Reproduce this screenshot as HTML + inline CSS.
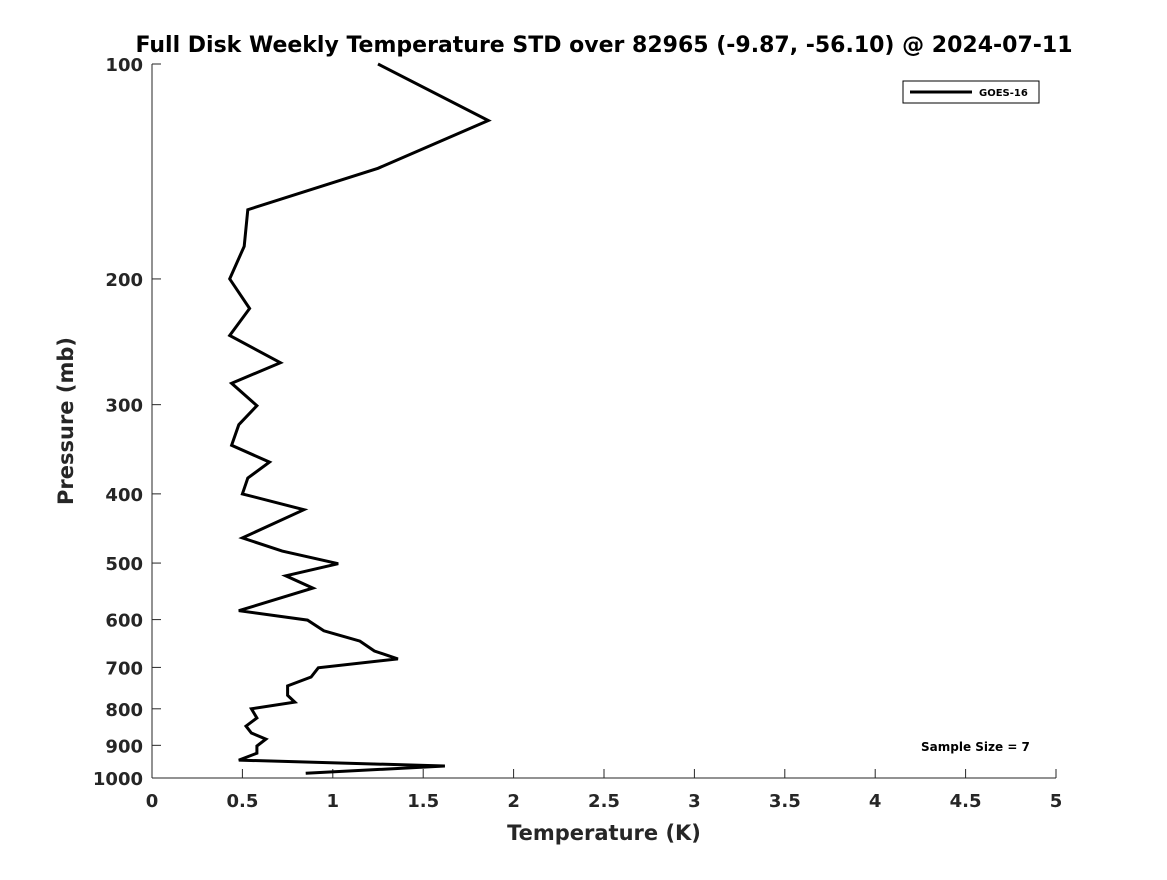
<!DOCTYPE html>
<html><head><meta charset="utf-8"><style>
body{margin:0;background:#fff;}
svg text{font-family:"DejaVu Sans","Liberation Sans",sans-serif;font-weight:bold;fill:#262626;}
</style></head><body>
<svg id="chart" width="1167" height="875" xmlns="http://www.w3.org/2000/svg">
<rect width="1167" height="875" fill="#fff"/>
<text x="604" y="52" text-anchor="middle" font-size="22" style="fill:#000">Full Disk Weekly Temperature STD over 82965 (-9.87, -56.10) @ 2024-07-11</text>
<g id="axes"></g>
<g id="series"></g>
<text x="604" y="840" text-anchor="middle" font-size="21">Temperature (K)</text>
<text transform="translate(73,421) rotate(-90)" text-anchor="middle" font-size="21">Pressure (mb)</text>
<g>
<rect x="903" y="81" width="136" height="22" fill="#fff" stroke="#000" stroke-width="1"/>
<line x1="910" y1="92" x2="972" y2="92" stroke="#000" stroke-width="3"/>
<text x="979" y="96" font-size="10" style="fill:#000">GOES-16</text>
</g>
<text x="921" y="751" font-size="12" style="fill:#000">Sample Size = 7</text>
</svg>
<script>
const xTicks=[0,0.5,1,1.5,2,2.5,3,3.5,4,4.5,5];
const xTickLabels=["0","0.5","1","1.5","2","2.5","3","3.5","4","4.5","5"];
const yTicks=[100,200,300,400,500,600,700,800,900,1000];
const yTickLabels=["100","200","300","400","500","600","700","800","900","1000"];
const pressure=[100,120,140,160,180,200,220,240,262,280,301,320,342,361,380,400,421,461,481,501,521,542,583,601,622,643,664,681,701,722,743,766,783,800,824,846,865,882,902,923,944,962,985];
const stdGoes16=[1.25,1.86,1.25,0.53,0.51,0.43,0.54,0.43,0.71,0.44,0.58,0.48,0.44,0.65,0.53,0.5,0.84,0.5,0.72,1.03,0.74,0.89,0.48,0.86,0.95,1.15,1.23,1.36,0.92,0.88,0.75,0.75,0.79,0.55,0.58,0.52,0.55,0.63,0.58,0.58,0.48,1.62,0.85];
const NS="http://www.w3.org/2000/svg";
const X0=152,X1=1056,Y0=64,Y1=778;
function xs(v){return X0+(v-0)/(5-0)*(X1-X0);}
function ys(p){return Y0+(Math.log10(p)-2)/(3-2)*(Y1-Y0);}
const axes=document.getElementById('axes');
function mk(tag,attrs,parent){const e=document.createElementNS(NS,tag);for(const k in attrs)e.setAttribute(k,attrs[k]);parent.appendChild(e);return e;}
const xa=mk('line',{x1:X0,y1:Y1,x2:X1,y2:Y1,stroke:'#262626','stroke-width':1},axes);


const ya=mk('line',{x1:X0,y1:Y0,x2:X0,y2:Y1,stroke:'#262626','stroke-width':1},axes);


xTicks.forEach((v,i)=>{
 const x=xs(v);
 const t=mk('line',{x1:x,y1:Y1,x2:x,y2:Y1-9,stroke:'#262626','stroke-width':1},axes);
 
 
 const l=mk('text',{x:x,y:Y1+29,'text-anchor':'middle','font-size':18},axes);
 l.textContent=xTickLabels[i];
 
 
});
yTicks.forEach((p,i)=>{
 const y=ys(p);
 const t=mk('line',{x1:X0,y1:y,x2:X0+9,y2:y,stroke:'#262626','stroke-width':1},axes);
 
 
 const l=mk('text',{x:X0-9,y:y+7,'text-anchor':'end','font-size':18},axes);
 l.textContent=yTickLabels[i];
 
 
});
const pts=pressure.map((p,i)=>xs(stdGoes16[i]).toFixed(1)+','+ys(p).toFixed(1)).join(' ');
const line=mk('polyline',{points:pts,fill:'none',stroke:'#000','stroke-width':3,'stroke-linejoin':'miter'},document.getElementById('series'));


</script>
</body></html>
